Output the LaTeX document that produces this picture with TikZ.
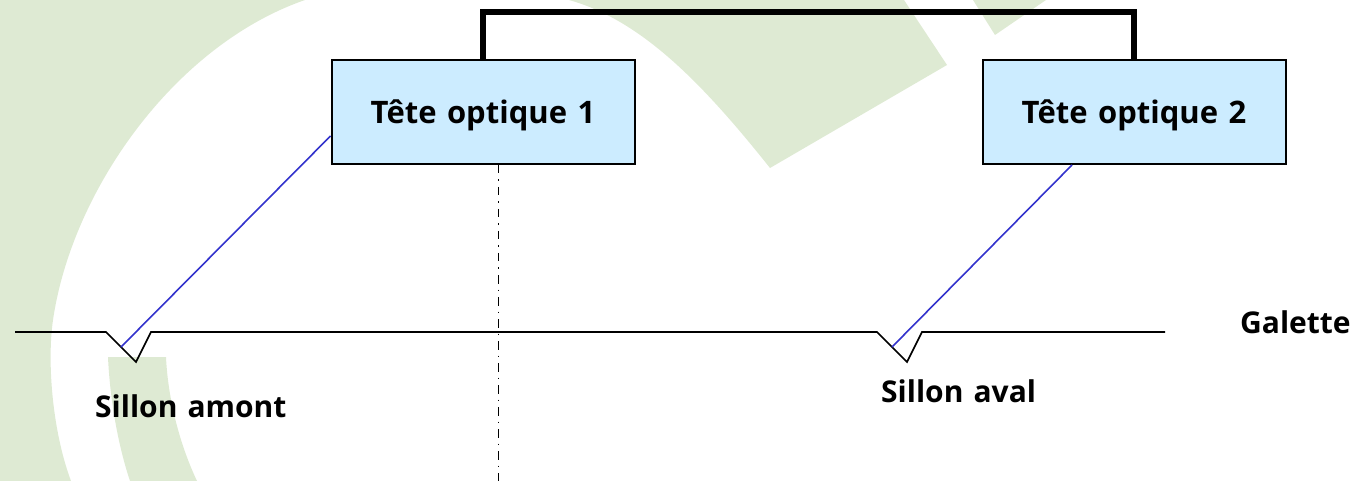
\documentclass[tikz,border=0pt]{standalone}
\usepackage{fontspec}
\setmainfont{Open Sans}[WordSpace=1.3]
\definecolor{bggreen}{HTML}{DEEAD3}
\definecolor{boxblue}{HTML}{CCECFF}
\definecolor{beam}{HTML}{3333CC}
\tikzset{
  headbox/.style={draw=black,line width=2pt,fill=boxblue,minimum width=303pt,minimum height=104pt,inner sep=0pt,text height=22pt,text depth=0pt,font=\fontsize{31}{36}\selectfont\bfseries},
  lab/.style={font=\fontsize{30}{36}\selectfont\bfseries,inner sep=0pt,anchor=base west},
  beamline/.style={draw=beam,line width=1.6pt},
  surface/.style={draw=black,line width=1.6pt,line join=miter},
  axisline/.style={draw=black,line width=1.3pt,dash pattern=on 8.5pt off 6pt on 1.5pt off 6pt},
  bridge/.style={draw=black,line width=5.5pt,line cap=butt,line join=miter}
}
\begin{document}
\begin{tikzpicture}[x=1pt,y=-1pt]
\useasboundingbox (0,0) rectangle (1355,481);
% background
\fill[bggreen] (0,0) -- (305,0) .. controls (175,45) and (72,190) .. (53,320)
  .. controls (47,361) and (52,430) .. (71,481) -- (0,481) -- cycle;
\fill[bggreen] (108,357) -- (166,357) .. controls (168,400) and (180,445) .. (197,481) -- (130,481)
  .. controls (118,445) and (110,400) .. (108,357) -- cycle;
\fill[bggreen] (569,0) .. controls (640,20) and (700,80) .. (770,168) -- (947,65) -- (904,0) -- cycle;
\fill[bggreen] (973,0) -- (995,35) -- (1046,0) -- cycle;
% coordinates
\coordinate (s0) at (15,332);
\coordinate (a1) at (106,332);
\coordinate (a2) at (136,362);
\coordinate (a3) at (151,332);
\coordinate (b1) at (877,332);
\coordinate (b2) at (907,362);
\coordinate (b3) at (922,332);
\coordinate (s1) at (1165,332);
\coordinate (ga) at (121,347);
\coordinate (gb) at (892,347);
\coordinate (axtop) at (498.5,165);
\coordinate (axbot) at (498.5,481);
% nodes
\node[headbox] (t1) at (483,112.5) {Tête optique 1};
\node[headbox] (t2) at (1134,112.5) {Tête optique 2};
\node[lab] (amont) at (95,417) {Sillon amont};
\node[lab] (aval) at (881,402) {Sillon aval};
\node[lab] (gal) at (1240,333) {Galette};
% connectors
\draw[bridge] (t1.north) -- (483,12) -- (1134,12) -- (t2.north);
\draw[surface] (s0) -- (a1) -- (a2) -- (a3) -- (b1) -- (b2) -- (b3) -- (s1);
\draw[beamline] (t1.west |- 0,136) -- (ga);
\draw[beamline] (1072,165) -- (gb);
\draw[axisline] (axtop) -- (axbot);
\end{tikzpicture}
\end{document}
